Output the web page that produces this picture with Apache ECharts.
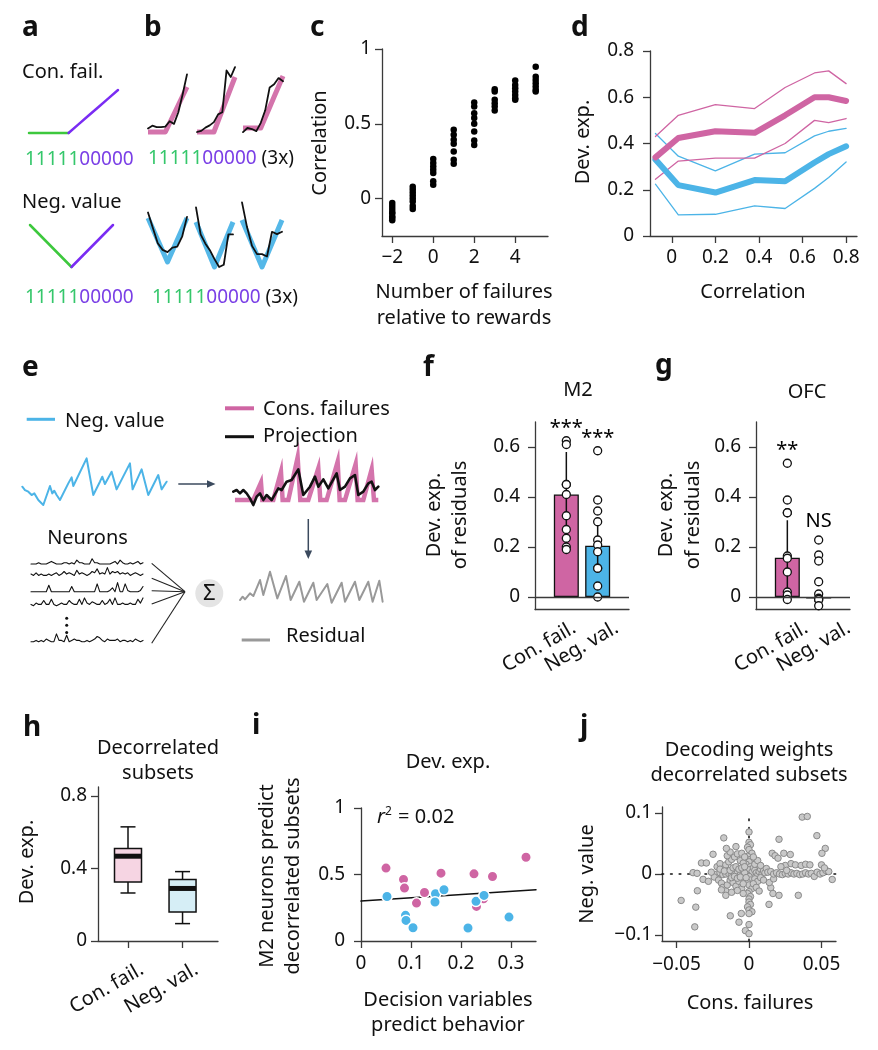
<!DOCTYPE html>
<html><head><meta charset="utf-8">
<script src="https://cdn.jsdelivr.net/npm/echarts@6.0.0/dist/echarts.min.js"></script>
<style>html,body{margin:0;padding:0;background:#fff}#c{width:878px;height:1050px}</style>
</head><body><div id="c"></div>
<script>
// ---------------- DATA ----------------
// a: schematic regressors for sequence 1111100000
const aConFail = [0,0,0,0,0,1,2,3,4,5];
const aNegValue = [4,3,2,1,0,1,2,3,4];
const aSplit = 4;
// b: example fits (3x)
const bRamp = [0,0,0,0,0,1,2,3,4,5];
const bRampFits = [
  [0.4,0.7,0.55,0.55,0.6,1.2,0.9,2.2,4.2,6.4],
  [0,0.1,0.4,0.6,0.9,1.6,1.8,5.6,5.0,5.9],
  [-0.4,0,-0.1,-0.3,0.5,1.7,3.9,4.2,4.8,4.5]
];
const bV = [4,3,2,1,0,1,2,3,4];
const bVFits = [
  [4.5,3.1,1.7,1.1,0.9,1.3,1.4,2.3,4.1],
  [5.3,2.9,2.1,1.5,0.7,0,0.2,2.9,2.9],
  [5.5,3.4,1.8,1.1,1.1,0.9,3.0,2.8,3.0]
];
// c
const cFailures = [-2,-1,0,1,2,3,4,5];
const cCorr = [
  [-0.03,-0.05,-0.07,-0.09,-0.10,-0.12,-0.13,-0.145],
  [0.08,0.06,0.04,0.02,0.0,-0.02,-0.05,-0.07],
  [0.265,0.238,0.215,0.193,0.171,0.116,0.093],
  [0.46,0.427,0.393,0.367,0.315,0.26,0.233],
  [0.642,0.615,0.571,0.538,0.5,0.449,0.389,0.358],
  [0.731,0.716,0.66,0.638,0.615,0.589],
  [0.789,0.76,0.738,0.716,0.693,0.671,0.66],
  [0.882,0.815,0.793,0.771,0.749,0.727,0.716]
];
const cTicksX = [-2,0,2,4], cTicksY = [0,0.5,1];
// d
const dCorr = [-0.075,0.03,0.2,0.38,0.52,0.655,0.72,0.8];
const dConsMean  = [0.34,0.424,0.453,0.446,0.522,0.60,0.60,0.584];
const dConsUpper = [0.43,0.522,0.568,0.551,0.642,0.705,0.714,0.659];
const dConsLower = [0.245,0.324,0.337,0.337,0.40,0.50,0.49,0.508];
const dNegMean  = [0.331,0.22,0.188,0.242,0.237,0.318,0.354,0.388];
const dNegUpper = [0.443,0.345,0.282,0.354,0.36,0.433,0.453,0.465];
const dNegLower = [0.224,0.091,0.094,0.13,0.119,0.206,0.253,0.32];
const dTicks = [0,0.2,0.4,0.6,0.8];
// e: illustration traces
const eNegValueX = [22,30,35,40,45,50,58,70,85,105,112,118,125,135,160,170,175,215,235,255,262,270,290,305,345,353,380,400,430,440,455];
const eNegValueY = [60,50,55,45,50,35,40,20,5,62,40,48,35,20,70,88,62,145,35,75,90,68,105,52,130,52,112,35,95,52,75];
const eConsX = [660,715,738,742,775,798,803,820,848,856,880,910,916,935,968,974,990,1022,1028,1045,1070,1077,1090];
const eConsY = [20,20,72,20,20,105,20,20,148,20,20,115,20,20,135,20,20,128,20,20,112,20,20];
const eProjX = [655,665,675,685,695,705,715,725,735,745,755,770,790,800,815,830,850,865,885,900,910,925,940,965,975,990,1005,1020,1030,1045,1060,1070,1080,1090];
const eProjY = [45,50,40,50,40,25,5,30,40,20,35,20,55,50,75,80,112,35,60,90,60,82,55,100,50,60,85,95,35,45,70,75,50,60];
const eResX = [660,668,675,690,700,720,730,750,772,798,812,838,852,880,890,922,935,965,975,1005,1018,1045,1058,1078,1088];
const eResY = [20,30,22,40,32,80,35,105,25,92,20,75,15,72,20,68,12,72,15,75,20,75,15,78,15];
const eNeurons = [
  [1,1,1,2,1,1,1,2,3,2,1,1,1,2,2,1,2,1,4,2,2,1,1,1,5,2,2,1,1,1,1,1,2,3,1,4,2,1,1,2,1,2,3,1,2],
  [3,2,4,2,3,2,2,3,2,3,4,2,3,5,3,4,3,2,6,3,4,3,2,3,5,4,7,3,4,3,8,3,5,4,5,3,4,3,4,2,3,4,3,2,3],
  [1,1,1,1,1,1,1,6,1,1,1,1,1,1,1,1,5,1,1,1,1,1,1,1,1,1,7,1,1,1,1,2,4,1,8,1,1,7,2,1,1,1,1,2,5],
  [2,1,3,2,2,5,2,2,6,2,1,2,3,2,2,5,3,2,2,6,2,7,3,2,4,3,2,2,5,2,3,6,2,7,2,2,3,2,2,3,2,2,6,3,7],
  [1,1,2,1,2,1,3,2,1,1,7,2,2,1,6,1,2,3,2,2,1,1,2,1,2,3,5,4,2,1,3,2,2,2,3,1,2,2,1,2,1,3,2,1,2]
];
// f, g
const barCats = ['Con. fail.','Neg. val.'];
const fMean = [0.41,0.205];
const fErr = [0.17,0.10];
const fConsPts = [0.625,0.61,0.45,0.45,0.41,0.325,0.27,0.235,0.2,0.19];
const fNegPts = [0.585,0.388,0.344,0.301,0.228,0.208,0.181,0.115,0.115,0.044,0.0];
const fMarks = ['***','***'];
const gMean = [0.157,-0.006];
const gErr = [0.15,0.008];
const gConsPts = [0.535,0.388,0.337,0.337,0.164,0.155,0.1,0.02,0.008,-0.01];
const gNegPts = [0.228,0.168,0.144,0.061,0.012,-0.005,-0.012,-0.01,-0.035];
const gMarks = ['**','NS'];
const fgTicks = [0,0.2,0.4,0.6];
// h: [min, q1, median, q3, max]
const hBoxes = [[0.265,0.326,0.468,0.51,0.63],[0.096,0.16,0.29,0.34,0.383]];
const hTicks = [0,0.4,0.8];
// i
const iConsX = [0.05,0.085,0.087,0.111,0.127,0.16,0.226,0.231,0.245,0.263,0.33];
const iConsY = [0.548,0.463,0.398,0.285,0.365,0.51,0.505,0.26,0.318,0.485,0.63];
const iNegX = [0.052,0.089,0.09,0.104,0.149,0.148,0.166,0.214,0.23,0.246,0.296];
const iNegY = [0.335,0.193,0.155,0.1,0.355,0.293,0.385,0.098,0.298,0.343,0.18];
const iFit = {intercept:0.30, slope:0.243};
const iR2 = '0.02';
const iTicksX = [0,0.1,0.2,0.3], iTicksY = [0,0.5,1];
// j
const jPoints = [
 [0.000,0.069],[0.000,0.052],[0.001,0.048],[-0.001,0.044],[0.000,0.040],[0.002,0.034],[-0.001,0.029],[0.001,0.024],[0.000,0.020],[-0.002,0.016],[0.001,0.012],[0.000,0.007],[0.002,0.003],[-0.001,-0.002],[0.000,-0.004],[0.001,-0.010],[-0.001,-0.014],[0.000,-0.018],[0.002,-0.024],[0.000,-0.029],[-0.001,-0.032],[0.001,-0.037],[0.000,-0.041],[0.000,-0.046],[0.001,-0.050],[-0.001,-0.054],[0.000,-0.059],[0.002,-0.062],[0.000,-0.065],[0.000,-0.083],[-0.0025,-0.093],[0.000,-0.098],
 [-0.0174,0.0593],[-0.0248,0.0324],[-0.0328,0.0181],[-0.0294,0.0181],[-0.0386,0.0022],[-0.0358,0.0011],[-0.0317,-0.0088],[-0.0356,-0.0275],[-0.0468,-0.0434],[-0.0367,-0.0544],[-0.0374,-0.0868],[-0.0129,-0.0686],[-0.0069,-0.0791],[-0.0053,-0.0648],
 [-0.022,0.012],[-0.02,0.017],[-0.018,0.008],[-0.016,0.015],[-0.014,0.02],[-0.012,0.024],[-0.01,0.028],[-0.008,0.033],[-0.006,0.022],[-0.004,0.018],
 [-0.022,0.0],[-0.02,0.002],[-0.018,-0.001],[-0.016,0.0],[-0.014,0.001],[-0.012,-0.001],[-0.01,0.0],[-0.008,0.002],[-0.006,-0.001],[-0.004,0.0],[-0.003,0.002],
 [-0.024,-0.005],[-0.021,-0.01],[-0.019,-0.015],[-0.018,-0.022],[-0.016,-0.028],[-0.015,-0.018],[-0.013,-0.01],[-0.011,-0.014],[-0.009,-0.02],[-0.007,-0.012],[-0.005,-0.024],[-0.004,-0.016],
 [-0.02,0.008],[-0.017,0.005],[-0.013,0.006],[-0.011,0.01],[-0.009,0.012],[-0.007,0.008],[-0.005,0.01],[-0.003,0.012],
 [-0.012,-0.006],[-0.01,-0.004],[-0.008,-0.007],[-0.006,-0.005],[-0.002,-0.006],
 [-0.015,0.03],[-0.013,0.036],[-0.005,0.034],[-0.003,0.028],[-0.0156,0.042],[-0.009,0.045],
 [-0.026,0.003],[-0.028,-0.012],[-0.019,-0.026],[-0.016,-0.035],[-0.012,-0.03],[-0.008,-0.027],[-0.004,-0.032],
 [0.003,0.01],[0.004,0.006],[0.005,0.002],[0.006,-0.002],[0.007,0.004],[0.008,0.008],[0.009,0.0],[0.01,0.005],[0.011,0.002],[0.012,0.009],[0.013,0.003],[0.004,-0.008],[0.006,-0.012],[0.008,-0.006],[0.003,-0.016],[0.005,-0.022],[0.007,-0.028],[0.004,0.016],[0.006,0.022],[0.003,0.028],[0.008,0.014],[0.01,-0.01],
 [0.0138,-0.0499],[0.015,-0.0225],[0.0165,-0.032],[0.0207,-0.035],[0.014,-0.014],[0.017,-0.008],
 [0.016,0.034],[0.018,0.03],[0.02,0.026],[0.024,0.034],[0.0207,0.057],[0.0285,0.032],
 [0.015,0.004],[0.017,0.0],[0.019,0.002],[0.021,0.0],[0.023,-0.001],[0.025,0.001],[0.027,0.0],[0.029,0.002],[0.031,0.0],[0.033,0.001],[0.035,-0.001],[0.037,0.0],[0.039,0.002],[0.041,0.0],[0.043,0.001],[0.045,-0.004],[0.047,0.003],[0.049,0.0],[0.051,0.002],[0.053,0.006],[0.055,0.004],
 [0.025,0.014],[0.029,0.017],[0.032,0.015],[0.036,0.014],[0.039,0.016],[0.042,0.015],[0.05,0.015],[0.052,0.01],
 [0.0367,0.0934],[0.0402,0.0945],[0.0468,0.063],[0.0526,0.042],[0.0503,0.034],[0.0574,-0.009],[0.034,-0.035],[0.022,0.012],[0.026,0.006]
];
const jTicksX = [-0.05,0,0.05], jTicksY = [-0.1,0,0.1];

// ---------------- STYLE / HELPERS ----------------
const FONT = "'Noto Sans','DejaVu Sans',sans-serif";
const PINK = '#cf65a3', BLUE = '#4cb4e7', GREEN = '#3dc83d', PURPLE = '#7a2cf3';
const GREEN_T = '#35c76b', PURPLE_T = '#7a3fe6';
const TXT = '#111', AX = '#3a3a3a', FS = 20, TFS = 19;
const grids = [], xAxes = [], yAxes = [], series = [], graphics = [];

function addGrid(left, top, width, height, xa, ya) {
  const i = grids.length;
  grids.push({left, top, width, height, containLabel:false, outerBoundsMode:'none'});
  xAxes.push(Object.assign({gridIndex:i, type:'value'}, xa));
  yAxes.push(Object.assign({gridIndex:i, type:'value'}, ya));
  return i;
}
const hid = (min, max) => ({show:false, min, max, splitLine:{show:false}, axisLine:{show:false, onZero:false}});
const fmtNum = v => (Math.abs(v) < 1e-9 ? '0' : String(+v.toFixed(3))).replace('-', '\u2212');
function axis(min, max, ticks, o = {}) {
  return {
    min, max,
    axisLine:{show:true, onZero:false, lineStyle:{color:AX, width:1.3}},
    axisTick:{show:o.noTick ? false : true, customValues:o.tickValues || ticks, length:7, lineStyle:{color:AX, width:1.3}},
    axisLabel:{show:!o.noLabel, customValues:ticks, formatter:o.formatter || fmtNum, fontSize:o.fontSize || TFS,
      color:TXT, fontFamily:FONT, margin:o.margin == null ? 10 : o.margin, rotate:o.rotate || 0,
      hideOverlap:false, interval:0, showMinLabel:true, showMaxLabel:true},
    splitLine:{show:false}
  };
}
const idx = arr => arr.map((v, i) => [i, v]);
const zip = (xs, ys) => xs.map((x, i) => [x, ys[i]]);
function line(gi, data, color, width, extra = {}) {
  series.push(Object.assign({type:'line', xAxisIndex:gi, yAxisIndex:gi, data, showSymbol:false, symbol:'none',
    clip:false, silent:true, z:2, lineStyle:{color, width, cap:'round', join:'round'}, itemStyle:{color}}, extra));
}
function text(x, y, str, o = {}) {
  graphics.push({type:'text', x, y, rotation:o.rot || 0, z:100, silent:true,
    style:Object.assign({text:str, fontSize:o.size || FS, fontFamily:FONT, fontWeight:o.weight || 'normal',
      fill:o.fill || TXT, align:o.align || 'left', verticalAlign:'middle',
      textAlign:o.align || 'left', textVerticalAlign:'middle'}, o.style || {})});
}
const letter = (x, y, s) => text(x, y, s, {size:28, weight:'bold'});
const gseg = (x1, y1, x2, y2, stroke, w) => graphics.push({type:'line', z:100, silent:true,
  shape:{x1, y1, x2, y2}, style:{stroke, lineWidth:w}});

// ---------------- PANEL a ----------------
let gi = addGrid(29, 90, 89, 43, hid(0, aConFail.length - 1), hid(0, Math.max(...aConFail)));
line(gi, idx(aConFail).slice(0, aSplit + 1), GREEN, 2.5);
line(gi, idx(aConFail).slice(aSplit), PURPLE, 2.5);
gi = addGrid(30, 225, 83, 42, hid(0, aNegValue.length - 1), hid(0, Math.max(...aNegValue)));
line(gi, idx(aNegValue).slice(0, aSplit + 1), GREEN, 2.5);
line(gi, idx(aNegValue).slice(aSplit), PURPLE, 2.5);

// ---------------- PANEL b ----------------
const bTopRects = [[148,73.5,39,63,-0.5,6.5],[197,66,38,71.5,-0.5,6],[243,65.6,40,67.6,-0.5,6]];
const bBotRects = [[148,201.5,39,66,-0.5,5.5],[196,201.75,37,70.9,-0.5,5.8],[242,198.9,40,74,-0.5,5.8]];
bTopRects.forEach((r, k) => {
  const g = addGrid(r[0], r[1], r[2], r[3], hid(0, bRamp.length - 1), hid(r[4], r[5]));
  line(g, idx(bRamp), PINK, 5, {lineStyle:{color:PINK, width:5, opacity:0.9, join:'round'}});
  line(g, idx(bRampFits[k]), '#111', 1.8);
});
bBotRects.forEach((r, k) => {
  const g = addGrid(r[0], r[1], r[2], r[3], hid(0, bV.length - 1), hid(r[4], r[5]));
  line(g, idx(bV), BLUE, 5, {lineStyle:{color:BLUE, width:5, opacity:0.95, join:'round'}});
  line(g, idx(bVFits[k]), '#111', 1.8);
});

// ---------------- PANEL c ----------------
gi = addGrid(382, 49, 166, 187, axis(-2.5, 5.6, cTicksX, {margin:12}), axis(-0.25, 1, cTicksY, {margin:11}));
series.push({type:'scatter', xAxisIndex:gi, yAxisIndex:gi, symbolSize:6.5, itemStyle:{color:'#000', opacity:1},
  data:cCorr.flatMap((col, k) => col.map(v => [cFailures[k], v])), z:3});

// ---------------- PANEL d ----------------
gi = addGrid(650, 51, 207, 185, axis(-0.1, 0.85, dTicks, {margin:12}), axis(0, 0.8, dTicks, {margin:16}));
line(gi, zip(dCorr, dNegUpper), BLUE, 1.3);
line(gi, zip(dCorr, dNegLower), BLUE, 1.3);
line(gi, zip(dCorr, dConsUpper), PINK, 1.3);
line(gi, zip(dCorr, dConsLower), PINK, 1.3);
line(gi, zip(dCorr, dNegMean), BLUE, 6);
line(gi, zip(dCorr, dConsMean), PINK, 6);

// ---------------- PANEL e ----------------
gi = addGrid(22.3, 456.7, 144.3, 50, hid(eNegValueX[0], eNegValueX[eNegValueX.length - 1]), hid(0, 150));
line(gi, zip(eNegValueX, eNegValueY), BLUE, 2);
gi = addGrid(233.3, 456.7, 145, 50, hid(655, 1090), hid(0, 150));
line(gi, zip(eConsX, eConsY), PINK, 4.5, {lineStyle:{color:PINK, width:4.5, opacity:0.9, join:'miter'}});
line(gi, zip(eProjX, eProjY), '#111', 2.6);
gi = addGrid(240, 556.7, 143.3, 50, hid(660, 1090), hid(0, 150));
line(gi, zip(eResX, eResY), '#999', 2);
const eNeuronBottoms = [565.3, 578, 593, 607, 643];
eNeurons.forEach((tr, k) => {
  const g = addGrid(31, eNeuronBottoms[k] - 13, 112, 13, hid(0, tr.length - 1), hid(0, 10));
  line(g, idx(tr), '#111', 1.1);
});

// ---------------- PANELS f, g ----------------
const catLabelGrids = [];  // [gridIndex, yMin, label x-offsets px, margin px]
function barPanel(left, means, errs, pts, marks, offs) {
  const g = addGrid(left, 422, 94, 187.5,
    axis(-1, 2, [0, 1], {noTick:true, noLabel:true}),
    axis(-0.05, 0.7, fgTicks, {margin:15}));
  catLabelGrids.push([g, -0.05, offs, 17]);
  series.push({type:'bar', xAxisIndex:g, yAxisIndex:g, barWidth:25, z:2,
    data:means.map((m, k) => ({value:[k, m], itemStyle:{color:[PINK, BLUE][k], borderColor:'#111', borderWidth:1.3}})),
    markLine:{silent:true, symbol:'none', label:{show:false}, lineStyle:{color:AX, width:1.3, type:'solid'}, data:[{yAxis:0}]}});
  series.push({type:'custom', xAxisIndex:g, yAxisIndex:g, z:3,
    data:means.map((m, k) => [k, m - errs[k], m + errs[k]]),
    renderItem:(p, api) => {
      const a = api.coord([api.value(0), api.value(1)]), b = api.coord([api.value(0), api.value(2)]);
      return {type:'line', shape:{x1:a[0], y1:a[1], x2:b[0], y2:b[1]}, style:{stroke:'#111', lineWidth:1.5}};
    }});
  pts.forEach((arr, k) => series.push({type:'scatter', xAxisIndex:g, yAxisIndex:g, z:4, symbolSize:8,
    itemStyle:{color:'#fff', borderColor:'#111', borderWidth:1.3, opacity:1}, data:arr.map(v => [k, v])}));
  series.push({type:'scatter', xAxisIndex:g, yAxisIndex:g, z:5, symbolSize:1, silent:true,
    itemStyle:{opacity:1, color:'rgba(0,0,0,0)'},
    data:marks.map((s, k) => ({value:[k, Math.max(...pts[k])],
      label:{show:true, position:'top', distance:/\*/.test(s) ? 2 : 8, formatter:s, fontSize:FS, fontFamily:FONT, color:'#000', opacity:1}}))});
}
barPanel(535, fMean, fErr, [fConsPts, fNegPts], fMarks, [8, 19]);
barPanel(756, gMean, gErr, [gConsPts, gNegPts], gMarks, [19, 30]);

// ---------------- PANEL h ----------------
gi = addGrid(98, 787, 120, 154,
  axis(-0.55, 1.65, [0, 1], {noLabel:true}),
  axis(0, 0.85, hTicks, {margin:11}));
catLabelGrids.push([gi, 0, [14, 14], 27]);
const hFills = ['#f6d5e3', '#d6eef6'];
series.push({type:'custom', xAxisIndex:gi, yAxisIndex:gi, z:3,
  data:hBoxes.map((b, k) => [k].concat(b)),
  renderItem:(p, api) => {
    const x = api.value(0);
    const Y = [1, 2, 3, 4, 5].map(d => api.coord([x, api.value(d)])[1]);
    const cx = api.coord([x, 0])[0], hw = 13.5, cw = 7.5, st = {stroke:'#111', lineWidth:1.5};
    return {type:'group', children:[
      {type:'line', shape:{x1:cx, y1:Y[4], x2:cx, y2:Y[3]}, style:st},
      {type:'line', shape:{x1:cx, y1:Y[1], x2:cx, y2:Y[0]}, style:st},
      {type:'line', shape:{x1:cx - cw, y1:Y[4], x2:cx + cw, y2:Y[4]}, style:st},
      {type:'line', shape:{x1:cx - cw, y1:Y[0], x2:cx + cw, y2:Y[0]}, style:st},
      {type:'rect', shape:{x:cx - hw, y:Y[3], width:2 * hw, height:Y[1] - Y[3]}, style:{fill:hFills[p.dataIndex], stroke:'#111', lineWidth:1.5}},
      {type:'line', shape:{x1:cx - hw, y1:Y[2], x2:cx + hw, y2:Y[2]}, style:{stroke:'#111', lineWidth:5}}
    ]};
  }});

// ---------------- PANEL i ----------------
gi = addGrid(361, 808, 175, 133, axis(0, 0.35, iTicksX, {margin:13}), axis(0, 1, iTicksY, {margin:16}));
const iXmax = 0.35;
line(gi, [[0, iFit.intercept], [iXmax, iFit.intercept + iFit.slope * iXmax]], '#111', 1.5, {z:2});
series.push({type:'scatter', xAxisIndex:gi, yAxisIndex:gi, z:3, symbolSize:10.5,
  itemStyle:{color:PINK, borderColor:'#fff', borderWidth:1.5, opacity:1}, data:zip(iConsX, iConsY)});
series.push({type:'scatter', xAxisIndex:gi, yAxisIndex:gi, z:4, symbolSize:10.5,
  itemStyle:{color:BLUE, borderColor:'#fff', borderWidth:1.5, opacity:1}, data:zip(iNegX, iNegY)});

// ---------------- PANEL j ----------------
gi = addGrid(662, 807, 174, 134, axis(-0.06, 0.06, jTicksX, {margin:14}), axis(-0.11, 0.11, jTicksY, {margin:10}));
line(gi, [[-0.06, 0], [0.06, 0]], '#111', 1.6, {z:1, lineStyle:{color:'#111', width:1.6, type:[1.6, 7], cap:'round'}});
line(gi, [[0, -0.11], [0, 0.092]], '#111', 1.6, {z:1, lineStyle:{color:'#111', width:1.6, type:[1.6, 7], cap:'round'}});
series.push({type:'scatter', xAxisIndex:gi, yAxisIndex:gi, z:3, symbolSize:6.5,
  itemStyle:{color:'#c9c9c9', borderColor:'#8a8a8a', borderWidth:1, opacity:1}, data:jPoints});

// ---------------- TEXT / DECORATIONS ----------------
letter(22, 27.7, 'a'); letter(144, 28, 'b'); letter(310, 28, 'c'); letter(571, 28, 'd');
letter(22, 368, 'e'); letter(423, 368, 'f'); letter(655, 366, 'g');
letter(23, 728, 'h'); letter(252, 726, 'i'); letter(580, 727, 'j');

const seq = (withX) => ({text:'{g|11111}{p|00000}' + (withX ? '{k| (3x)}' : ''),
  rich:{g:{fill:GREEN_T, fontSize:TFS, fontFamily:FONT}, p:{fill:PURPLE_T, fontSize:TFS, fontFamily:FONT}, k:{fill:TXT, fontSize:TFS, fontFamily:FONT}}});
text(22, 72, 'Con. fail.');
text(25, 160, '', {style:seq(false)});
text(22, 202, 'Neg. value');
text(25, 298, '', {style:seq(false)});
text(148, 158.5, '', {style:seq(true)});
text(152, 298, '', {style:seq(true)});

text(320, 143, 'Correlation', {rot:Math.PI / 2, align:'center'});
text(464, 292, 'Number of failures', {align:'center'});
text(464, 318, 'relative to rewards', {align:'center'});
text(583, 142, 'Dev. exp.', {rot:Math.PI / 2, align:'center'});
text(753, 292, 'Correlation', {align:'center'});

// e legend / diagram
gseg(26.7, 419.3, 55, 419.3, BLUE, 3); text(65, 421, 'Neg. value');
gseg(225, 408.3, 254, 408.3, PINK, 4); text(263, 409, 'Cons. failures');
gseg(225, 436.7, 254, 436.7, '#111', 3); text(263, 436, 'Projection');
gseg(241.7, 640, 270, 640, '#999', 3); text(286, 636, 'Residual');
text(87.5, 538, 'Neurons', {align:'center'});
const ARC = '#3b4a5e';
gseg(178.3, 484, 211, 484, ARC, 1.5);
graphics.push({type:'polygon', z:100, shape:{points:[[215.5, 484], [207, 480.2], [207, 487.8]]}, style:{fill:ARC}});
gseg(308.3, 519, 308.3, 554, ARC, 1.5);
graphics.push({type:'polygon', z:100, shape:{points:[[308.3, 559], [304.5, 550.5], [312.1, 550.5]]}, style:{fill:ARC}});
[563.3, 578.3, 590.7, 604, 643.3].forEach(y => gseg(151.7, y, 185, 591.7, '#222', 1.1));
[618.3, 625.2, 632.4].forEach(y => graphics.push({type:'circle', z:100, shape:{cx:66.7, cy:y, r:1.5}, style:{fill:'#111'}}));
graphics.push({type:'circle', z:99, shape:{cx:209.3, cy:593.3, r:14}, style:{fill:'#e4e4e4'}});
text(209.3, 594, '\u03A3', {align:'center', size:22});

// f, g titles
text(578, 390, 'M2', {align:'center'});
text(807, 392, 'OFC', {align:'center'});
text(434, 515, 'Dev. exp.', {rot:Math.PI / 2, align:'center'});
text(460, 515, 'of residuals', {rot:Math.PI / 2, align:'center'});
text(666, 515, 'Dev. exp.', {rot:Math.PI / 2, align:'center'});
text(693, 515, 'of residuals', {rot:Math.PI / 2, align:'center'});

// h
text(158, 748, 'Decorrelated', {align:'center'});
text(158, 773, 'subsets', {align:'center'});
text(27, 862, 'Dev. exp.', {rot:Math.PI / 2, align:'center'});

// i
text(448, 762, 'Dev. exp.', {align:'center'});
text(267, 876, 'M2 neurons predict', {rot:Math.PI / 2, align:'center'});
text(293, 876, 'decorrelated subsets', {rot:Math.PI / 2, align:'center'});
text(448, 1000, 'Decision variables', {align:'center'});
text(448, 1025, 'predict behavior', {align:'center'});
text(377, 817, '', {style:{text:'{i|r}{s|2}{n| = ' + iR2 + '}',
  rich:{i:{fontStyle:'italic', fontSize:FS, fontFamily:FONT, fill:TXT}, s:{fontSize:12, fontFamily:FONT, fill:TXT, padding:[0, 1, 11, 0]}, n:{fontSize:FS, fontFamily:FONT, fill:TXT}}}});

// j
text(749, 750, 'Decoding weights', {align:'center'});
text(749, 775, 'decorrelated subsets', {align:'center'});
text(587, 874, 'Neg. value', {rot:Math.PI / 2, align:'center'});
text(750, 1003, 'Cons. failures', {align:'center'});

// ---------------- CHART ----------------
const chart = echarts.init(document.getElementById('c'), null, {renderer:'canvas'});
chart.setOption({
  animation:false,
  backgroundColor:'#fff',
  textStyle:{fontFamily:FONT},
  grid:grids, xAxis:xAxes, yAxis:yAxes, series:series, graphic:graphics
});
// rotated category labels, placed through the grids' own scales
catLabelGrids.forEach(([g, yMin, offs, margin]) => {
  barCats.forEach((name, k) => {
    const p = chart.convertToPixel({gridIndex:g}, [k, yMin]);
    text(p[0] + offs[k], p[1] + margin, name, {rot:Math.PI / 6, align:'right'});
  });
});
chart.setOption({graphic:graphics});
</script></body></html>
